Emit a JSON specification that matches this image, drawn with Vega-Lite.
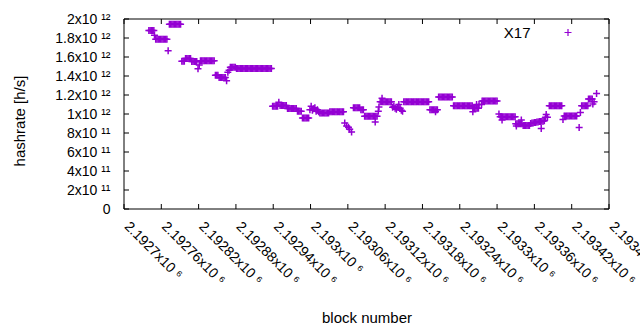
{
"$schema": "https://vega.github.io/schema/vega-lite/v6.json",
"width": 485, "height": 190,
"autosize": "none",
"padding": {"left": 124, "top": 19, "right": 31, "bottom": 121},
"background": "white",
"config": {
 "view": {"stroke": null},
 "font": "Liberation Sans",
 "axis": {"labelColor": "#000", "titleColor": "#000", "grid": false, "domain": false, "ticks": false, "tickSize": 0, "labelFont": "Liberation Sans", "titleFont": "Liberation Sans", "labelFontSize": 14, "titleFontSize": 15, "titleFontWeight": "normal", "labelOverlap": false, "labelFlush": false, "labelBound": false}
},
"datasets": {
"xt": [{"t":2192700},{"t":2192760},{"t":2192820},{"t":2192880},{"t":2192940},{"t":2193000},{"t":2193060},{"t":2193120},{"t":2193180},{"t":2193240},{"t":2193300},{"t":2193360},{"t":2193420},{"t":2193480}],
"yt": [{"v":0},{"v":200000000000},{"v":400000000000},{"v":600000000000},{"v":800000000000},{"v":1000000000000},{"v":1200000000000},{"v":1400000000000},{"v":1600000000000},{"v":1800000000000},{"v":2000000000000}],
"pts": [
{"b":2192740,"h":1.88e12},{"b":2192742,"h":1.88e12},{"b":2192744,"h":1.88e12},{"b":2192746,"h":1.88e12},{"b":2192748,"h":1.88e12},
{"b":2192749,"h":1.83e12},
{"b":2192751,"h":1.787e12},{"b":2192753,"h":1.787e12},{"b":2192755,"h":1.787e12},{"b":2192757,"h":1.787e12},{"b":2192759,"h":1.787e12},{"b":2192761,"h":1.787e12},{"b":2192763,"h":1.787e12},{"b":2192765,"h":1.787e12},{"b":2192767,"h":1.787e12},{"b":2192769,"h":1.787e12},
{"b":2192771,"h":1.665e12},
{"b":2192773,"h":1.944e12},{"b":2192775,"h":1.944e12},{"b":2192777,"h":1.944e12},{"b":2192779,"h":1.944e12},{"b":2192781,"h":1.944e12},{"b":2192783,"h":1.944e12},{"b":2192785,"h":1.944e12},{"b":2192787,"h":1.944e12},{"b":2192789,"h":1.944e12},{"b":2192791,"h":1.944e12},
{"b":2192793,"h":1.556e12},{"b":2192795,"h":1.556e12},{"b":2192797,"h":1.556e12},
{"b":2192799,"h":1.585e12},{"b":2192801,"h":1.585e12},{"b":2192803,"h":1.585e12},{"b":2192805,"h":1.585e12},{"b":2192807,"h":1.585e12},
{"b":2192809,"h":1.553e12},{"b":2192811,"h":1.553e12},{"b":2192813,"h":1.553e12},{"b":2192815,"h":1.553e12},{"b":2192817,"h":1.553e12},
{"b":2192819,"h":1.477e12},{"b":2192821,"h":1.517e12},
{"b":2192823,"h":1.56e12},{"b":2192825,"h":1.56e12},{"b":2192827,"h":1.56e12},{"b":2192829,"h":1.56e12},{"b":2192831,"h":1.56e12},{"b":2192833,"h":1.56e12},{"b":2192835,"h":1.56e12},{"b":2192837,"h":1.56e12},{"b":2192839,"h":1.56e12},{"b":2192841,"h":1.56e12},{"b":2192843,"h":1.56e12},{"b":2192845,"h":1.56e12},
{"b":2192847,"h":1.409e12},{"b":2192849,"h":1.409e12},{"b":2192851,"h":1.409e12},
{"b":2192853,"h":1.385e12},{"b":2192855,"h":1.385e12},{"b":2192857,"h":1.385e12},{"b":2192859,"h":1.385e12},{"b":2192861,"h":1.385e12},{"b":2192863,"h":1.385e12},
{"b":2192865,"h":1.35e12},
{"b":2192867,"h":1.44e12},{"b":2192869,"h":1.46e12},
{"b":2192871,"h":1.493e12},{"b":2192873,"h":1.493e12},{"b":2192875,"h":1.493e12},{"b":2192877,"h":1.493e12},{"b":2192879,"h":1.493e12},
{"b":2192881,"h":1.479e12},{"b":2192883,"h":1.479e12},{"b":2192885,"h":1.479e12},{"b":2192887,"h":1.479e12},{"b":2192889,"h":1.479e12},{"b":2192891,"h":1.479e12},{"b":2192893,"h":1.479e12},{"b":2192895,"h":1.479e12},{"b":2192897,"h":1.479e12},{"b":2192899,"h":1.479e12},{"b":2192901,"h":1.479e12},{"b":2192903,"h":1.479e12},{"b":2192905,"h":1.479e12},{"b":2192907,"h":1.479e12},{"b":2192909,"h":1.479e12},{"b":2192911,"h":1.479e12},{"b":2192913,"h":1.479e12},{"b":2192915,"h":1.479e12},{"b":2192917,"h":1.479e12},{"b":2192919,"h":1.479e12},{"b":2192921,"h":1.479e12},{"b":2192923,"h":1.479e12},{"b":2192925,"h":1.479e12},{"b":2192927,"h":1.479e12},{"b":2192929,"h":1.479e12},{"b":2192931,"h":1.479e12},{"b":2192933,"h":1.479e12},{"b":2192935,"h":1.479e12},{"b":2192937,"h":1.479e12},
{"b":2192939,"h":1.082e12},{"b":2192941,"h":1.082e12},{"b":2192943,"h":1.082e12},{"b":2192945,"h":1.082e12},{"b":2192947,"h":1.082e12},
{"b":2192949,"h":1.124e12},
{"b":2192951,"h":1.09e12},{"b":2192953,"h":1.09e12},{"b":2192955,"h":1.09e12},{"b":2192957,"h":1.09e12},{"b":2192959,"h":1.09e12},{"b":2192961,"h":1.09e12},
{"b":2192963,"h":1.058e12},{"b":2192965,"h":1.058e12},{"b":2192967,"h":1.058e12},{"b":2192969,"h":1.058e12},{"b":2192971,"h":1.058e12},{"b":2192973,"h":1.058e12},{"b":2192975,"h":1.058e12},{"b":2192977,"h":1.058e12},
{"b":2192979,"h":1.03e12},{"b":2192981,"h":1.03e12},{"b":2192983,"h":1.03e12},{"b":2192985,"h":1.03e12},
{"b":2192987,"h":0.958e12},{"b":2192989,"h":0.958e12},{"b":2192991,"h":0.958e12},{"b":2192993,"h":0.958e12},{"b":2192995,"h":0.958e12},{"b":2192997,"h":0.958e12},
{"b":2192999,"h":1.045e12},{"b":2193001,"h":1.082e12},{"b":2193003,"h":1.04e12},{"b":2193005,"h":1.055e12},{"b":2193007,"h":1.065e12},{"b":2193009,"h":1.03e12},{"b":2193011,"h":1.045e12},{"b":2193013,"h":1.025e12},
{"b":2193015,"h":1.01e12},{"b":2193017,"h":1.01e12},{"b":2193019,"h":1.01e12},{"b":2193021,"h":1.01e12},{"b":2193023,"h":1.01e12},{"b":2193025,"h":1.01e12},{"b":2193027,"h":1.01e12},{"b":2193029,"h":1.01e12},
{"b":2193031,"h":1.024e12},{"b":2193033,"h":1.024e12},{"b":2193035,"h":1.024e12},{"b":2193037,"h":1.024e12},{"b":2193039,"h":1.024e12},{"b":2193041,"h":1.024e12},{"b":2193043,"h":1.024e12},{"b":2193045,"h":1.024e12},{"b":2193047,"h":1.024e12},{"b":2193049,"h":1.024e12},{"b":2193051,"h":1.024e12},{"b":2193053,"h":1.024e12},
{"b":2193055,"h":0.905e12},{"b":2193058,"h":0.875e12},{"b":2193061,"h":0.86e12},{"b":2193063,"h":0.84e12},{"b":2193066,"h":0.81e12},
{"b":2193069,"h":1.065e12},{"b":2193071,"h":1.065e12},{"b":2193073,"h":1.065e12},{"b":2193075,"h":1.065e12},{"b":2193077,"h":1.065e12},{"b":2193079,"h":1.065e12},
{"b":2193081,"h":1.045e12},{"b":2193083,"h":1.045e12},{"b":2193085,"h":1.045e12},
{"b":2193087,"h":0.977e12},{"b":2193089,"h":0.977e12},{"b":2193091,"h":0.977e12},{"b":2193093,"h":0.977e12},{"b":2193095,"h":0.977e12},{"b":2193097,"h":0.977e12},{"b":2193099,"h":0.977e12},{"b":2193101,"h":0.977e12},{"b":2193103,"h":0.977e12},{"b":2193105,"h":0.977e12},{"b":2193107,"h":0.977e12},
{"b":2193104,"h":0.915e12},
{"b":2193109,"h":1.03e12},{"b":2193110,"h":1.075e12},
{"b":2193112,"h":1.13e12},{"b":2193114,"h":1.13e12},{"b":2193116,"h":1.13e12},{"b":2193118,"h":1.13e12},{"b":2193120,"h":1.13e12},{"b":2193122,"h":1.13e12},{"b":2193124,"h":1.13e12},{"b":2193126,"h":1.13e12},{"b":2193128,"h":1.13e12},{"b":2193130,"h":1.13e12},
{"b":2193115,"h":1.165e12},
{"b":2193132,"h":1.07e12},{"b":2193134,"h":1.082e12},{"b":2193136,"h":1.06e12},{"b":2193138,"h":1.05e12},{"b":2193140,"h":1.07e12},{"b":2193142,"h":1.1e12},{"b":2193144,"h":1.06e12},{"b":2193146,"h":1.04e12},{"b":2193148,"h":1.03e12},
{"b":2193150,"h":1.128e12},{"b":2193152,"h":1.128e12},{"b":2193154,"h":1.128e12},{"b":2193156,"h":1.128e12},{"b":2193158,"h":1.128e12},{"b":2193160,"h":1.128e12},{"b":2193162,"h":1.128e12},{"b":2193164,"h":1.128e12},{"b":2193166,"h":1.128e12},{"b":2193168,"h":1.128e12},{"b":2193170,"h":1.128e12},{"b":2193172,"h":1.128e12},{"b":2193174,"h":1.128e12},{"b":2193176,"h":1.128e12},{"b":2193178,"h":1.128e12},{"b":2193180,"h":1.128e12},{"b":2193182,"h":1.128e12},{"b":2193184,"h":1.128e12},{"b":2193186,"h":1.128e12},{"b":2193188,"h":1.128e12},{"b":2193190,"h":1.128e12},
{"b":2193192,"h":1.045e12},{"b":2193194,"h":1.045e12},{"b":2193196,"h":1.045e12},{"b":2193198,"h":1.045e12},{"b":2193200,"h":1.045e12},{"b":2193202,"h":1.045e12},{"b":2193204,"h":1.045e12},
{"b":2193201,"h":1.023e12},
{"b":2193206,"h":1.18e12},{"b":2193208,"h":1.18e12},{"b":2193210,"h":1.18e12},{"b":2193212,"h":1.18e12},{"b":2193214,"h":1.18e12},{"b":2193216,"h":1.18e12},{"b":2193218,"h":1.18e12},{"b":2193220,"h":1.18e12},{"b":2193222,"h":1.18e12},{"b":2193224,"h":1.18e12},{"b":2193226,"h":1.18e12},{"b":2193228,"h":1.18e12},
{"b":2193230,"h":1.086e12},{"b":2193232,"h":1.086e12},{"b":2193234,"h":1.086e12},{"b":2193236,"h":1.086e12},{"b":2193238,"h":1.086e12},{"b":2193240,"h":1.086e12},{"b":2193242,"h":1.086e12},{"b":2193244,"h":1.086e12},{"b":2193246,"h":1.086e12},{"b":2193248,"h":1.086e12},{"b":2193250,"h":1.086e12},{"b":2193252,"h":1.086e12},{"b":2193254,"h":1.086e12},{"b":2193256,"h":1.086e12},{"b":2193258,"h":1.086e12},{"b":2193260,"h":1.086e12},
{"b":2193261,"h":1.023e12},
{"b":2193262,"h":1.061e12},{"b":2193264,"h":1.061e12},{"b":2193266,"h":1.061e12},{"b":2193268,"h":1.061e12},{"b":2193270,"h":1.061e12},
{"b":2193267,"h":1.1e12},{"b":2193271,"h":1.1e12},{"b":2193275,"h":1.1e12},
{"b":2193276,"h":1.138e12},{"b":2193278,"h":1.138e12},{"b":2193280,"h":1.138e12},{"b":2193282,"h":1.138e12},{"b":2193284,"h":1.138e12},{"b":2193286,"h":1.138e12},{"b":2193288,"h":1.138e12},{"b":2193290,"h":1.138e12},{"b":2193292,"h":1.138e12},{"b":2193294,"h":1.138e12},{"b":2193296,"h":1.138e12},{"b":2193298,"h":1.138e12},{"b":2193300,"h":1.138e12},
{"b":2193303,"h":1.0e12},
{"b":2193305,"h":0.972e12},{"b":2193307,"h":0.972e12},{"b":2193309,"h":0.972e12},{"b":2193311,"h":0.972e12},{"b":2193313,"h":0.972e12},{"b":2193315,"h":0.972e12},{"b":2193317,"h":0.972e12},{"b":2193319,"h":0.972e12},{"b":2193321,"h":0.972e12},{"b":2193323,"h":0.972e12},{"b":2193325,"h":0.972e12},{"b":2193327,"h":0.972e12},{"b":2193329,"h":0.972e12},
{"b":2193308,"h":0.937e12},
{"b":2193330,"h":0.897e12},{"b":2193332,"h":0.897e12},{"b":2193334,"h":0.897e12},{"b":2193336,"h":0.897e12},{"b":2193338,"h":0.897e12},{"b":2193340,"h":0.897e12},
{"b":2193331,"h":0.875e12},{"b":2193339,"h":0.937e12},
{"b":2193342,"h":0.88e12},{"b":2193344,"h":0.88e12},{"b":2193346,"h":0.88e12},{"b":2193348,"h":0.88e12},{"b":2193350,"h":0.88e12},{"b":2193352,"h":0.88e12},
{"b":2193354,"h":0.9e12},{"b":2193356,"h":0.905e12},{"b":2193358,"h":0.905e12},{"b":2193360,"h":0.91e12},{"b":2193362,"h":0.91e12},{"b":2193364,"h":0.915e12},{"b":2193366,"h":0.915e12},{"b":2193368,"h":0.92e12},{"b":2193370,"h":0.92e12},{"b":2193372,"h":0.925e12},{"b":2193374,"h":0.925e12},{"b":2193376,"h":0.93e12},
{"b":2193371,"h":0.848e12},
{"b":2193378,"h":0.967e12},{"b":2193379,"h":0.995e12},{"b":2193381,"h":0.967e12},
{"b":2193384,"h":1.087e12},{"b":2193386,"h":1.087e12},{"b":2193388,"h":1.087e12},{"b":2193390,"h":1.087e12},{"b":2193392,"h":1.087e12},{"b":2193394,"h":1.087e12},{"b":2193396,"h":1.087e12},{"b":2193398,"h":1.087e12},{"b":2193400,"h":1.087e12},{"b":2193402,"h":1.087e12},{"b":2193404,"h":1.087e12},
{"b":2193406,"h":0.942e12},
{"b":2193408,"h":0.978e12},{"b":2193410,"h":0.978e12},{"b":2193412,"h":0.978e12},{"b":2193414,"h":0.978e12},{"b":2193416,"h":0.978e12},{"b":2193418,"h":0.978e12},{"b":2193420,"h":0.978e12},{"b":2193422,"h":0.978e12},{"b":2193424,"h":0.978e12},{"b":2193426,"h":0.978e12},{"b":2193428,"h":0.978e12},
{"b":2193432,"h":0.857e12},
{"b":2193434,"h":1.017e12},
{"b":2193436,"h":1.088e12},{"b":2193438,"h":1.088e12},{"b":2193440,"h":1.088e12},{"b":2193442,"h":1.088e12},{"b":2193444,"h":1.088e12},{"b":2193446,"h":1.088e12},
{"b":2193447,"h":1.158e12},{"b":2193449,"h":1.158e12},{"b":2193451,"h":1.158e12},{"b":2193453,"h":1.158e12},
{"b":2193454,"h":1.105e12},{"b":2193456,"h":1.128e12},{"b":2193460,"h":1.215e12}
]},
"layer": [
 {
  "data": {"name": "pts"},
  "mark": {"type": "point", "shape": "M-1,0L1,0M0,-1L0,1", "filled": false, "size": 49, "strokeWidth": 1.5, "opacity": 1},
  "encoding": {
   "x": {"field": "b", "type": "quantitative",
     "scale": {"domain": [2192700, 2193480], "nice": false, "zero": false},
     "axis": {"orient": "bottom", "labelOverlap": false, "values": [2192700,2192760,2192820,2192880,2192940,2193000,2193060,2193120,2193180,2193240,2193300,2193360,2193420,2193480],
       "labelExpr": "format(datum.value/1e6, '.5~f') + 'x10 ⁶'",
       "labelAngle": 45, "labelAlign": "left", "labelBaseline": "middle", "labelPadding": 15, "labelOffset": 2,
       "title": "block number", "titleX": 242.5, "titleY": 113, "titleBaseline": "alphabetic"}},
   "y": {"field": "h", "type": "quantitative",
     "scale": {"domain": [0, 2000000000000], "nice": false, "zero": true},
     "axis": {"orient": "left", "labelOverlap": false, "values": [0,200000000000,400000000000,600000000000,800000000000,1000000000000,1200000000000,1400000000000,1600000000000,1800000000000,2000000000000],
       "labelExpr": "datum.value == 0 ? '0' : (datum.value >= 1e12 ? format(datum.value/1e12, '~g') + 'x10 ¹²' : format(datum.value/1e11, '~g') + 'x10 ¹¹')",
       "labelPadding": 14, "labelAlign": "right", "labelBaseline": "middle",
       "title": "hashrate [h/s]", "titleX": -105, "titleY": 101.5, "titleBaseline": "middle", "titleAlign": "center", "titleAngle": -90}},
   "color": {"datum": "X17", "type": "nominal", "scale": {"range": ["#9400d3"]},
     "legend": {"orient": "none", "legendX": 436.5, "legendY": 6, "title": null, "labelAlign": "right", "labelOffset": -45, "labelFontSize": 15, "labelFont": "Liberation Sans", "labelColor": "#000", "symbolType": "M-1,0L1,0M0,-1L0,1", "symbolSize": 49, "symbolStrokeWidth": 1.2, "symbolFillColor": "transparent", "padding": 0}}
  }
 },
 {
  "data": {"values": [{}]},
  "mark": {"type": "rect", "fill": null, "stroke": "#000", "strokeWidth": 1},
  "encoding": {
   "x": {"datum": 2192700, "type": "quantitative", "axis": null},
   "x2": {"datum": 2193480},
   "y": {"datum": 0, "type": "quantitative", "axis": null},
   "y2": {"datum": 2000000000000}
  }
 },
 {
  "data": {"name": "xt"},
  "mark": {"type": "point", "shape": "M0,0L0,-1", "filled": false, "size": 100, "stroke": "#000", "strokeWidth": 1, "opacity": 1},
  "encoding": {
   "x": {"field": "t", "type": "quantitative", "axis": null},
   "y": {"datum": 0, "type": "quantitative", "axis": null}
  }
 },
 {
  "data": {"name": "xt"},
  "mark": {"type": "point", "shape": "M0,0L0,1", "filled": false, "size": 100, "stroke": "#000", "strokeWidth": 1, "opacity": 1},
  "encoding": {
   "x": {"field": "t", "type": "quantitative", "axis": null},
   "y": {"datum": 2000000000000, "type": "quantitative", "axis": null}
  }
 },
 {
  "data": {"name": "yt"},
  "mark": {"type": "point", "shape": "M0,0L1,0", "filled": false, "size": 100, "stroke": "#000", "strokeWidth": 1, "opacity": 1},
  "encoding": {
   "x": {"datum": 2192700, "type": "quantitative", "axis": null},
   "y": {"field": "v", "type": "quantitative", "axis": null}
  }
 },
 {
  "data": {"name": "yt"},
  "mark": {"type": "point", "shape": "M0,0L-1,0", "filled": false, "size": 100, "stroke": "#000", "strokeWidth": 1, "opacity": 1},
  "encoding": {
   "x": {"datum": 2193480, "type": "quantitative", "axis": null},
   "y": {"field": "v", "type": "quantitative", "axis": null}
  }
 }
],
"resolve": {"axis": {"x": "independent", "y": "independent"}}
}
